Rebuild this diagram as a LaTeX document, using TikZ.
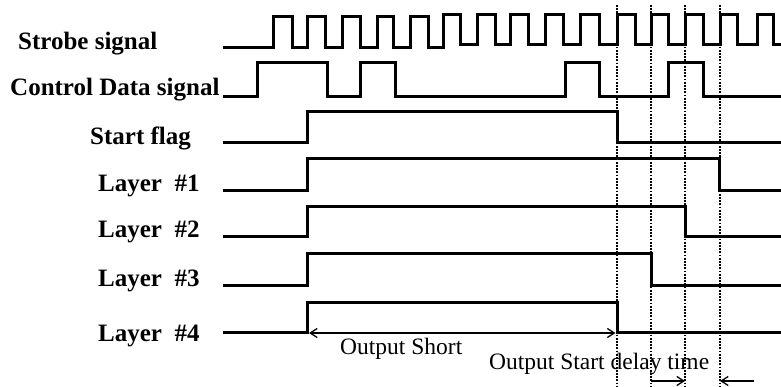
\documentclass[tikz,border=0pt]{standalone}
\usepackage{fontspec}
\setmainfont{Liberation Serif}
\usetikzlibrary{arrows.meta}
\begin{document}
\begin{tikzpicture}[x=1pt,y=-1pt,
  sig/.style={line width=3pt, line join=miter},
  guide/.style={line width=1.8pt, dash pattern=on 1.8pt off 1.4pt},
  dimline/.style={line width=1.3pt},
  tip/.tip={Straight Barb[length=7pt,width=9pt]},
  lab/.style={font=\fontsize{25}{30}\selectfont\bfseries, inner sep=0pt, anchor=base west},
  note/.style={font=\fontsize{23.5}{28}\selectfont, inner sep=0pt, anchor=base west}]
\useasboundingbox (0,0) rectangle (781,387);

% labels
\node[lab] (lstrobe) at (18,50) {Strobe signal};
\node[lab] (lctrl) at (10,96) {Control Data signal};
\node[lab] (lstart) at (90,145) {Start flag};
\node[lab] (l1) at (98,192) {Layer\ \ \#1};
\node[lab] (l2) at (98,238) {Layer\ \ \#2};
\node[lab] (l3) at (98,286) {Layer\ \ \#3};
\node[lab] (l4) at (98,341) {Layer\ \ \#4};

% guide lines
\foreach \x/\n in {617/ga,651/gb,685/gc,720/gd}{
  \coordinate (\n top) at (\x,5);
  \coordinate (\n bot) at (\x,387);
  \draw[guide] (\n top) -- (\n bot);
}

% strobe signal
\draw[sig] (223,48)
  foreach \r/\f in {273/292,307/325,342/360,377/393,410/428}
    { -- (\r,48) -- (\r,17) -- (\f,17) -- (\f,48) }
  -- (443,48) -- (443,15) -- (460,15) -- (460,45)
  foreach \r/\f in {477/495,510/528,545/563,580/599,617/635,651/668,685/703,720/737,757/773}
    { -- (\r,45) -- (\r,15) -- (\f,15) -- (\f,45) }
  -- (781,45);

% control data signal
\draw[sig] (223,97)
  foreach \r/\f in {257/327,360/395,565/599,668/703}
    { -- (\r,97) -- (\r,63) -- (\f,63) -- (\f,97) }
  -- (781,97);

% start flag and layers
\draw[sig] (223,143) -- (307,143) -- (307,112) -- (617,112) -- (617,143) -- (781,143);
\draw[sig] (223,191) -- (307,191) -- (307,159) -- (719,159) -- (719,191) -- (781,191);
\draw[sig] (223,237) -- (307,237) -- (307,207) -- (685,207) -- (685,237) -- (781,237);
\draw[sig] (223,285) -- (307,285) -- (307,254) -- (651,254) -- (651,285) -- (781,285);
\draw[sig] (223,332) -- (307,332) -- (307,302) -- (617,302) -- (617,332) -- (781,332);

% dimension arrows
\coordinate (os1) at (309,333);
\coordinate (os2) at (615.5,333);
\draw[dimline, {tip}-{tip}] (os1) -- (os2);
\coordinate (d1s) at (651,381);
\coordinate (d1e) at (685,381);
\coordinate (d2s) at (754,381);
\coordinate (d2e) at (720,381);
\draw[dimline, -{tip}] (d1s) -- (d1e);
\draw[dimline, -{tip}] (d2s) -- (d2e);

\node[note] (tshort) at (340,354) {Output Short};
\node[note] (tdelay) at (489,369) {Output Start delay time};
\end{tikzpicture}
\end{document}
